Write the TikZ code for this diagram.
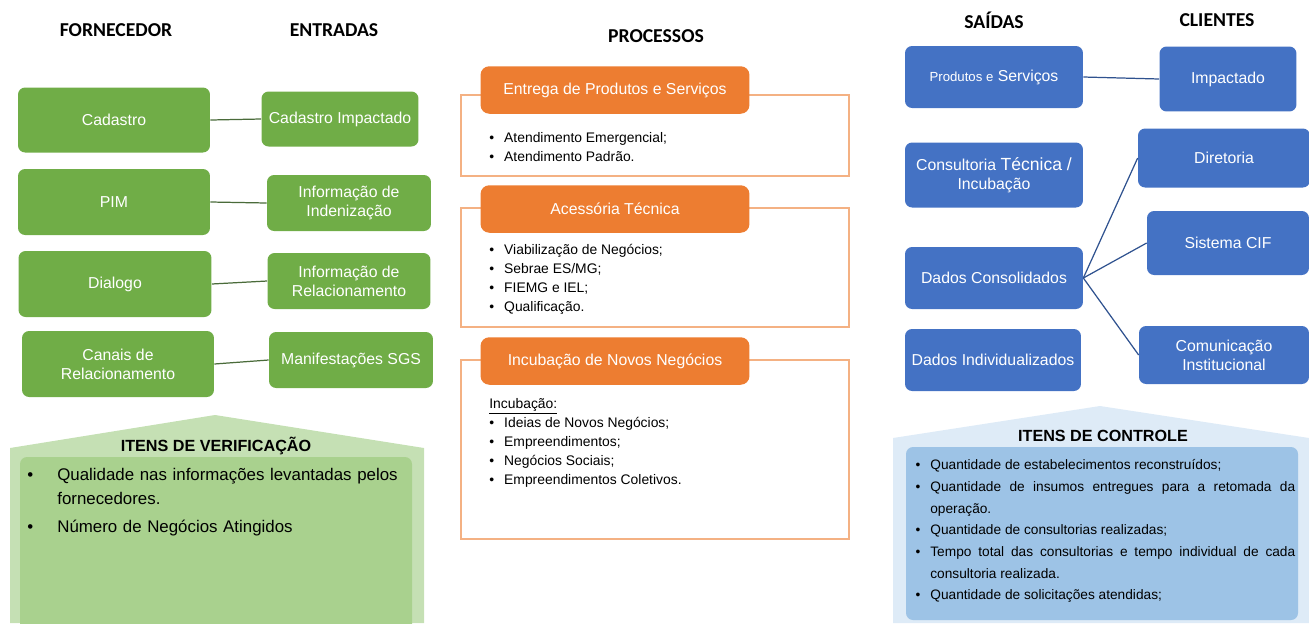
\documentclass[tikz,border=0pt]{standalone}
\usepackage{fontspec}
\setmainfont{Liberation Sans}
\newfontfamily\cabecalho{Carlito}
\usetikzlibrary{positioning}

\definecolor{verde}{HTML}{70AD47}
\definecolor{verdeclaro}{HTML}{C5E0B4}
\definecolor{verdemedio}{HTML}{A9D18E}
\definecolor{linhaverde}{HTML}{4A6B3A}
\definecolor{laranja}{HTML}{ED7D31}
\definecolor{laranjaclaro}{HTML}{F4B183}
\definecolor{azul}{HTML}{4472C4}
\definecolor{azulclaro}{HTML}{DEEBF7}
\definecolor{azulmedio}{HTML}{9DC3E6}
\definecolor{linhaazul}{HTML}{2F528F}

\tikzstyle{titulo} = [font=\cabecalho\bfseries\fontsize{11.2}{13}\selectfont]
\tikzstyle{caixaverde} = [fill=verde, text=white, rounded corners=4pt, align=center, inner sep=0pt, font=\fontsize{9}{10.8}\selectfont]
\tikzstyle{caixaazul} = [fill=azul, text=white, rounded corners=4pt, align=center, inner sep=0pt, font=\fontsize{9}{10.8}\selectfont]
\tikzstyle{cabproc} = [fill=laranja, text=white, rounded corners=5pt, inner sep=0pt, minimum width=5.38cm, minimum height=0.95cm, font=\fontsize{9}{10.8}\selectfont]
\tikzstyle{quadroproc} = [draw=laranjaclaro, line width=0.8pt]
\tikzstyle{lista} = [anchor=north west, inner sep=0pt, align=left, font=\fontsize{7.9}{10.8}\selectfont]
\tikzstyle{conector} = [linhaverde, line width=0.7pt]
\tikzstyle{conectorazul} = [linhaazul, line width=0.7pt]
\tikzstyle{tituloitens} = [font=\bfseries\fontsize{9.2}{11}\selectfont, inner sep=0pt]

\newcommand{\marca}{\textbullet\hspace{0.2cm}}
\newenvironment{marcadores}[3]{\begin{list}{\textbullet}{\setlength{\leftmargin}{#1}\setlength{\labelsep}{#2}\setlength{\topsep}{0pt}\setlength{\itemsep}{#3}\setlength{\parsep}{0pt}\setlength{\partopsep}{0pt}}\hyphenpenalty=10000\exhyphenpenalty=10000}{\end{list}}

\begin{document}
\begin{tikzpicture}[x=0.02cm, y=-0.02cm]
	\useasboundingbox (0,0) rectangle (1309,623);

	% cabecalhos das colunas
	\node[titulo] (tforn) at (116,30) {FORNECEDOR};
	\node[titulo] (tent) at (334,30) {ENTRADAS};
	\node[titulo] (tproc) at (656,36) {PROCESSOS};
	\node[titulo] (tsai) at (994,20) {SAÍDAS};
	\node[titulo] (tcli) at (1217,20) {CLIENTES};

	% fornecedores e entradas
	\node[caixaverde, minimum width=3.84cm, minimum height=1.30cm] (forn1) at (114,120) {Cadastro};
	\node[caixaverde, minimum width=3.84cm, minimum height=1.32cm] (forn2) at (114,202) {PIM};
	\node[caixaverde, minimum width=3.86cm, minimum height=1.32cm] (forn3) at (115,284) {Dialogo};
	\node[caixaverde, minimum width=3.84cm, minimum height=1.32cm] (forn4) at (118,364) {Canais de\\Relacionamento};
	\node[caixaverde, minimum width=3.14cm, minimum height=1.10cm] (ent1) at (340,119) {Cadastro Impactado};
	\node[caixaverde, minimum width=3.28cm, minimum height=1.12cm] (ent2) at (349,203) {Informação de\\Indenização};
	\node[caixaverde, minimum width=3.26cm, minimum height=1.12cm] (ent3) at (349,281) {Informação de\\Relacionamento};
	\node[caixaverde, minimum width=3.28cm, minimum height=1.12cm] (ent4) at (351,360) {Manifestações SGS};
	\draw[conector] (forn1.east) -- (ent1.west);
	\draw[conector] (forn2.east) -- (ent2.west);
	\draw[conector] (forn3.east) -- (ent3.west);
	\draw[conector] (forn4.east) -- (ent4.west);

	% itens de verificacao
	\fill[verdeclaro] (10,448) -- (215,415) -- (424,448) -- (424,623) -- (10,623) -- cycle;
	\fill[verdemedio, rounded corners=4pt] (20,457) rectangle (412,640);
	\node[tituloitens] (tverif) at (216,446) {ITENS DE VERIFICAÇÃO};
	\node[anchor=north west, inner sep=0pt, text width=7.7cm, align=left, font=\fontsize{9.6}{13.6}\selectfont] (verif) at (22,456) {%
		\begin{marcadores}{0.7cm}{0.48cm}{2.3pt}\raggedright
			\item Qualidade nas informações levantadas pelos\newline fornecedores.
			\item Número de Negócios Atingidos
		\end{marcadores}};

	% processos
	\draw[quadroproc] (461,95) rectangle (849,176);
	\draw[quadroproc] (461,208) rectangle (849,327);
	\draw[quadroproc] (461,360) rectangle (849,539);
	\node[cabproc] (proc1) at (615,90) {Entrega de Produtos e Serviços};
	\node[cabproc] (proc2) at (615,209) {Acessória Técnica};
	\node[cabproc] (proc3) at (615,361) {Incubação de Novos Negócios};
	\node[lista] (lista1) at (489,132) {\marca Atendimento Emergencial;\\\marca Atendimento Padrão.};
	\node[lista] (lista2) at (489,244) {\marca Viabilização de Negócios;\\\marca Sebrae ES/MG;\\\marca FIEMG e IEL;\\\marca Qualificação.};
	\node[lista] (lista3) at (489,398) {\underline{Incubação:}\\\marca Ideias de Novos Negócios;\\\marca Empreendimentos;\\\marca Negócios Sociais;\\\marca Empreendimentos Coletivos.};

	% saidas e clientes
	\node[caixaazul, minimum width=3.56cm, minimum height=1.24cm] (sai1) at (994,77) {{\fontsize{7.5}{9}\selectfont Produtos e} Serviços};
	\node[caixaazul, minimum width=3.56cm, minimum height=1.30cm] (sai2) at (994,175) {Consultoria {\fontsize{10}{10.8}\selectfont Técnica /}\\Incubação};
	\node[caixaazul, minimum width=3.56cm, minimum height=1.24cm] (sai3) at (994,278) {Dados Consolidados};
	\node[caixaazul, minimum width=3.52cm, minimum height=1.24cm] (sai4) at (993,360) {Dados Individualizados};
	\node[caixaazul, minimum width=2.74cm, minimum height=1.30cm] (cli1) at (1228,79) {Impactado};
	\node[caixaazul, minimum width=3.44cm, minimum height=1.18cm] (cli2) at (1224,158) {Diretoria};
	\node[caixaazul, minimum width=3.24cm, minimum height=1.28cm] (cli3) at (1228,243) {Sistema CIF};
	\node[caixaazul, minimum width=3.40cm, minimum height=1.16cm] (cli4) at (1224,355) {Comunicação\\Institucional};
	\draw[conectorazul] (sai1.east) -- (cli1.west);
	\draw[conectorazul] (sai3.east) -- (cli2.west);
	\draw[conectorazul] (sai3.east) -- (cli3.west);
	\draw[conectorazul] (sai3.east) -- (cli4.west);

	% itens de controle
	\fill[azulclaro] (893,438) -- (1100,406) -- (1309,438) -- (1309,623) -- (893,623) -- cycle;
	\fill[azulmedio, rounded corners=4pt] (906,447) rectangle (1298,620);
	\node[tituloitens] (tctrl) at (1103,436) {ITENS DE CONTROLE};
	\node[anchor=north west, inner sep=0pt, text width=7.66cm, align=justify, font=\fontsize{7.8}{12.3}\selectfont] (ctrl) at (912,448) {%
		\begin{marcadores}{0.36cm}{0.2cm}{0pt}
			\item Quantidade de estabelecimentos reconstruídos;
			\item Quantidade de insumos entregues para a retomada da operação.
			\item Quantidade de consultorias realizadas;
			\item Tempo total das consultorias e tempo individual de cada consultoria realizada.
			\item Quantidade de solicitações atendidas;
		\end{marcadores}};
\end{tikzpicture}
\end{document}
